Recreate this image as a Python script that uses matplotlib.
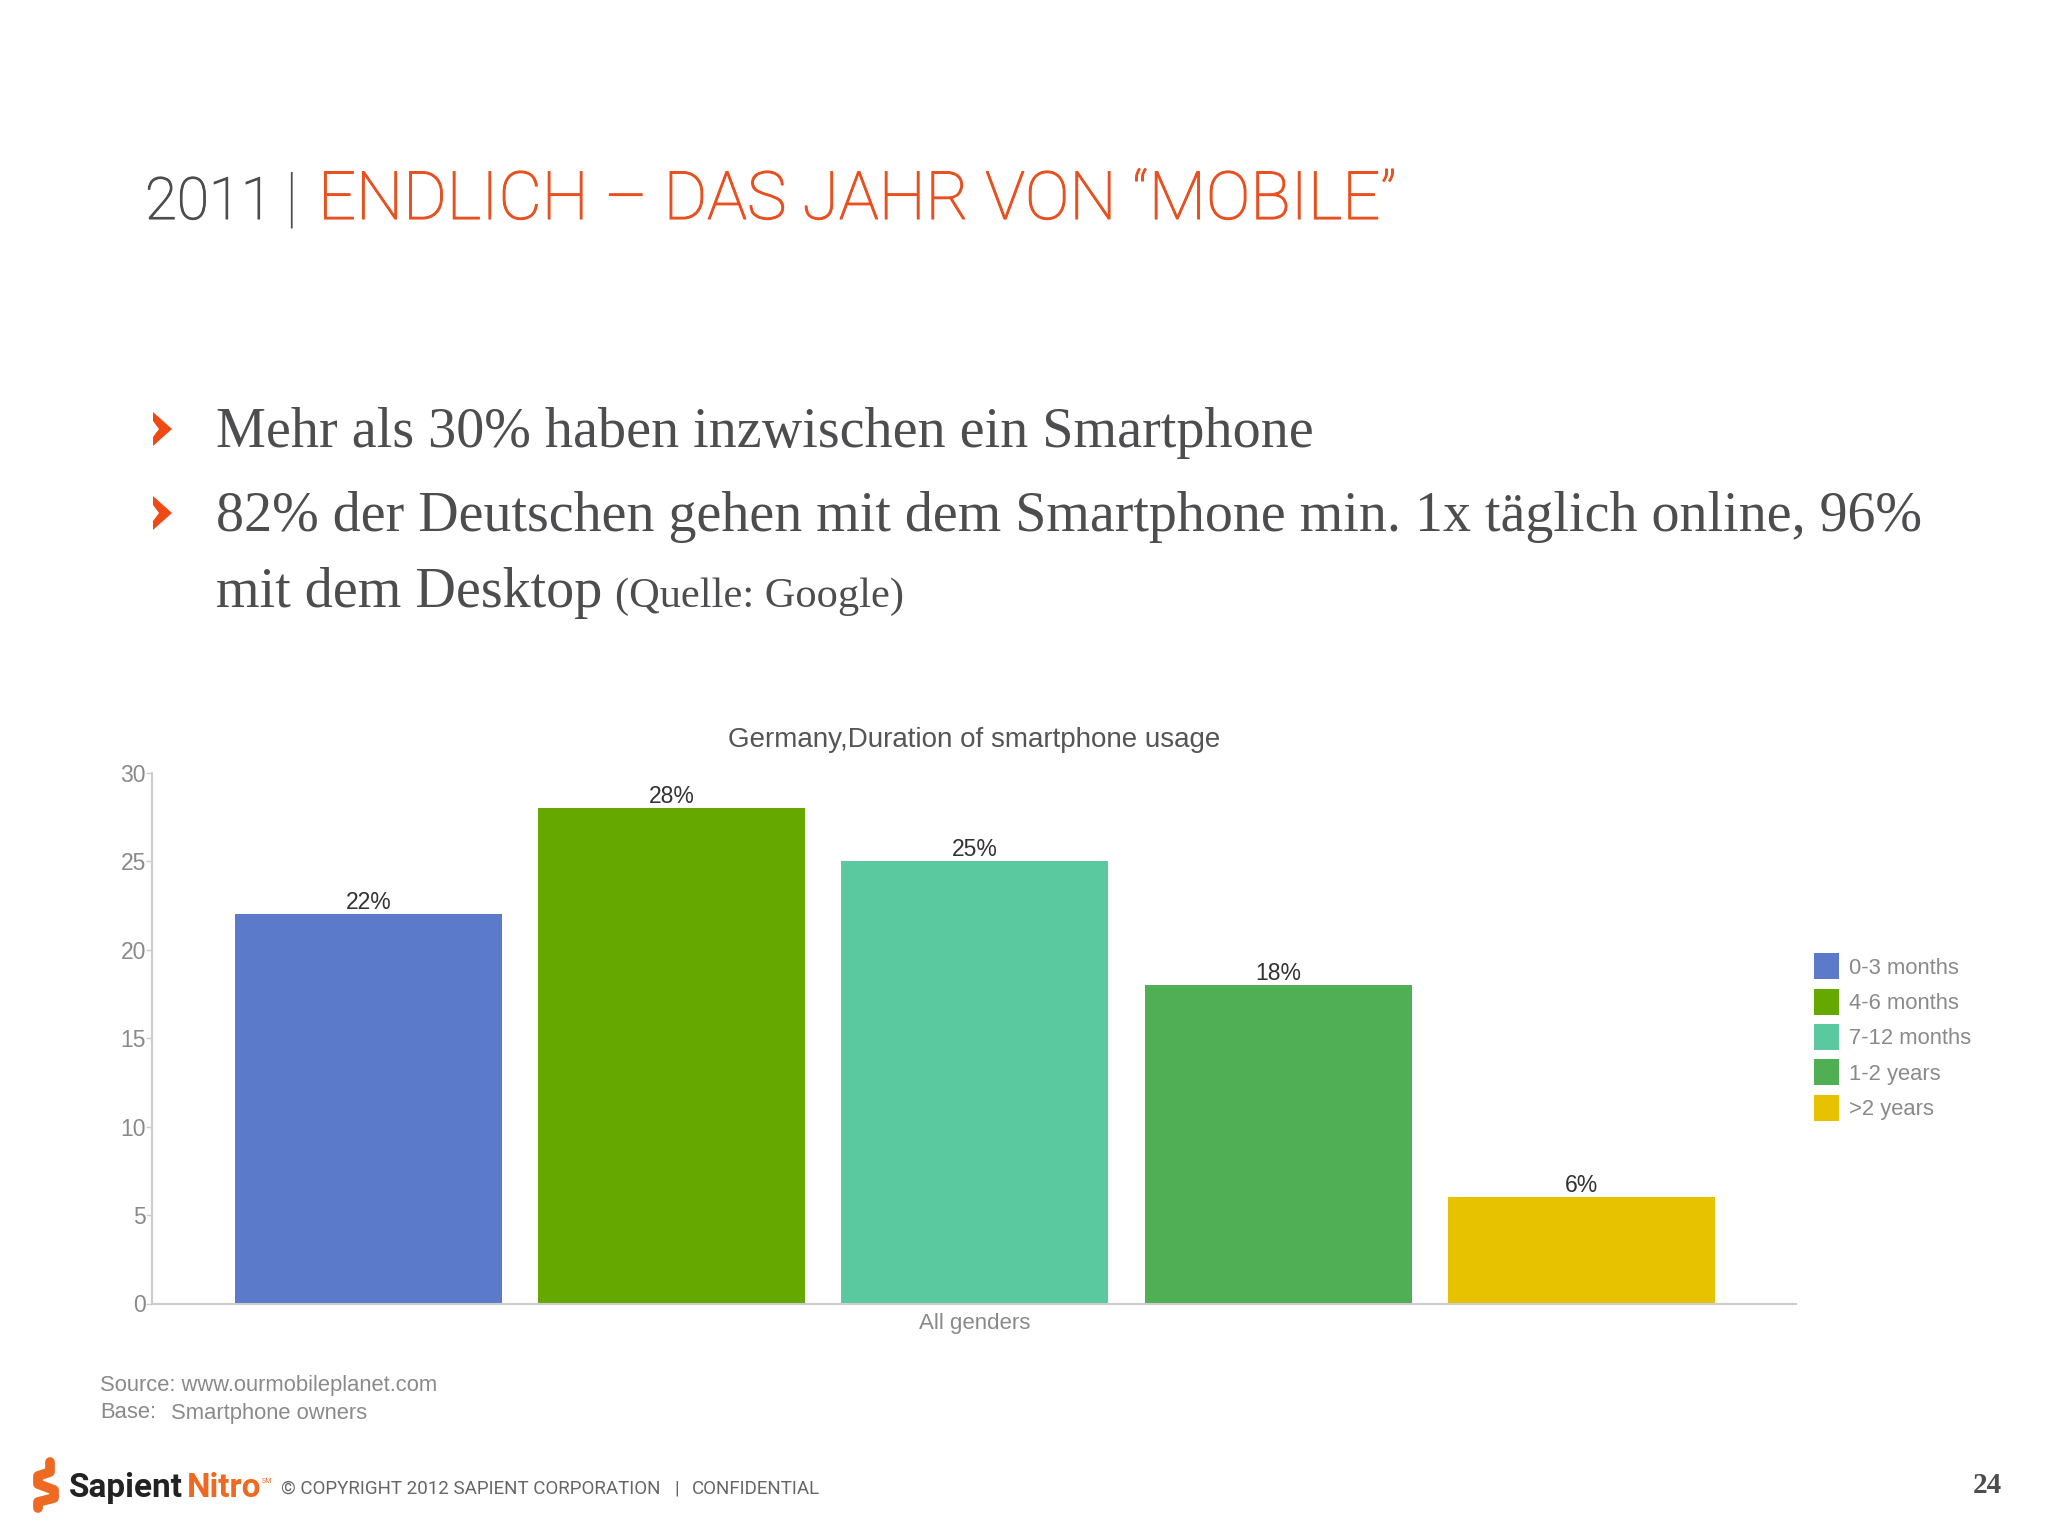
import matplotlib
matplotlib.use("Agg")
import matplotlib.pyplot as plt
import matplotlib.patheffects as pe
import numpy as np

#------------------- chart data -------------------
categories = ["0-3 months", "4-6 months", "7-12 months", "1-2 years", ">2 years"]
shares = [22, 28, 25, 18, 6]
bar_colors = ["#5b7bca", "#64a800", "#5bc99f", "#50ae55", "#e6c200"]
y_ticks = [0, 5, 10, 15, 20, 25, 30]

W, H = 2048, 1536
GREY = "#4d4d4f"
ORANGE = "#e8501f"

fig = plt.figure(figsize=(W / 100, H / 100), dpi=100, facecolor="white")

# page layer in pixel coords, for everything around the chart
page = fig.add_axes([0, 0, 1, 1])
page.set_xlim(0, W)
page.set_ylim(H, 0)
page.axis("off")

#------------------- slide header -------------------
# light weight is a bit too thin on its own, so thicken it slightly
head = dict(family="Roboto", weight="light")
page.text(145, 219, "2011", fontsize=42, color=GREY,
          path_effects=[pe.withStroke(linewidth=0.8, foreground=GREY)], **head)
page.text(284, 219, "|", fontsize=48, color=GREY, **head)
page.text(318, 219, "ENDLICH – DAS JAHR VON “MOBILE”", fontsize=48, color=ORANGE,
          path_effects=[pe.withStroke(linewidth=0.8, foreground=ORANGE)], **head)

#------------------- bullets -------------------
body = dict(family="Liberation Serif", color=GREY)
page.text(216, 447, "Mehr als 30% haben inzwischen ein Smartphone", fontsize=40.4, **body)
page.text(216, 531, "82% der Deutschen gehen mit dem Smartphone min. 1x täglich online, 96%", fontsize=40.3, **body)
page.text(216, 607, "mit dem Desktop", fontsize=40.4, **body)
page.text(615, 607, "(Quelle: Google)", fontsize=30.5, **body)
for yc in (429, 513):
    page.fill([153, 172, 153, 153, 159, 153], [yc - 17, yc, yc + 17, yc + 8, yc, yc - 8],
              color="#f04a14", lw=0)

#------------------- chart -------------------
ax = fig.add_axes([151.5 / W, 1 - 1303.5 / H, (1796 - 151.5) / W, (1303.5 - 773) / H])
ax.patch.set_alpha(0)
x = np.arange(len(shares))
bars = ax.bar(x, shares, width=0.88, color=bar_colors, label=categories)
ax.set_xlim(-0.7148, 4.707)
ax.set_ylim(0, 30)
for xi, val in zip(x, shares):
    ax.text(xi, val, "%d%%" % val, ha="center", va="bottom", fontsize=16.5,
            family="Liberation Sans", color="#333333")
for side in ("top", "right"):
    ax.spines[side].set_visible(False)
for side in ("left", "bottom"):
    ax.spines[side].set_color("#cccccc")
    ax.spines[side].set_linewidth(1.5)
ax.set_yticks(y_ticks)
ax.tick_params(axis="y", length=4, width=1, color="#cccccc", pad=0, labelsize=16.5, labelcolor="#8a8a8a")
for lab in ax.get_yticklabels():
    lab.set_family("Liberation Sans")
ax.set_xticks([2])
ax.set_xticklabels(["All genders"], family="Liberation Sans", fontsize=16, color="#8a8a8a")
ax.tick_params(axis="x", length=0, pad=7)
ax.set_title("Germany,Duration of smartphone usage", family="Liberation Sans", fontsize=20,
             color="#555555", pad=19)

ax.legend(handles=list(bars), labels=categories, loc="center left", frameon=False,
          bbox_to_anchor=(1814 / W, 1 - 1037 / H), bbox_transform=fig.transFigure,
          prop={"family": "Liberation Sans", "size": 15.8}, labelcolor="#8a8a8a",
          handlelength=1.13, handleheight=1.45, handletextpad=0.47, labelspacing=0.42,
          borderpad=0, borderaxespad=0)

#------------------- source note and footer -------------------
note = dict(family="Liberation Sans", fontsize=15.8, color="#8a8a8a")
page.text(100, 1390.5, "Source: www.ourmobileplanet.com", **note)
page.text(100, 1418.5, "Base:", **note)
page.text(171, 1418.5, "Smartphone owners", **note)

# logo mark
page.plot([50, 50, 38, 38, 54, 54, 38, 38], [1462, 1472, 1476, 1484, 1490, 1498, 1502, 1508],
          color="#ee6a22", lw=7, solid_joinstyle="round", solid_capstyle="round")
page.text(69, 1497, "Sapient", family="Roboto", weight="bold", fontsize=24, color="#222222")
page.text(187, 1497, "Nitro", family="Roboto", weight="bold", fontsize=24, color="#ee6a22")
page.text(262, 1483, "SM", family="Roboto", fontsize=5, color="#ee6a22")
foot = dict(family="Roboto", fontsize=13.5, color="#666666")
page.text(281, 1493.5, "© COPYRIGHT 2012 SAPIENT CORPORATION", **foot)
page.text(674, 1493.5, "|", **foot)
page.text(692, 1493.5, "CONFIDENTIAL", **foot)
page.text(2002, 1493, "24", ha="right", family="Liberation Serif", weight="bold", fontsize=21, color=GREY)

fig.savefig("out.png", dpi=100, facecolor="white")
